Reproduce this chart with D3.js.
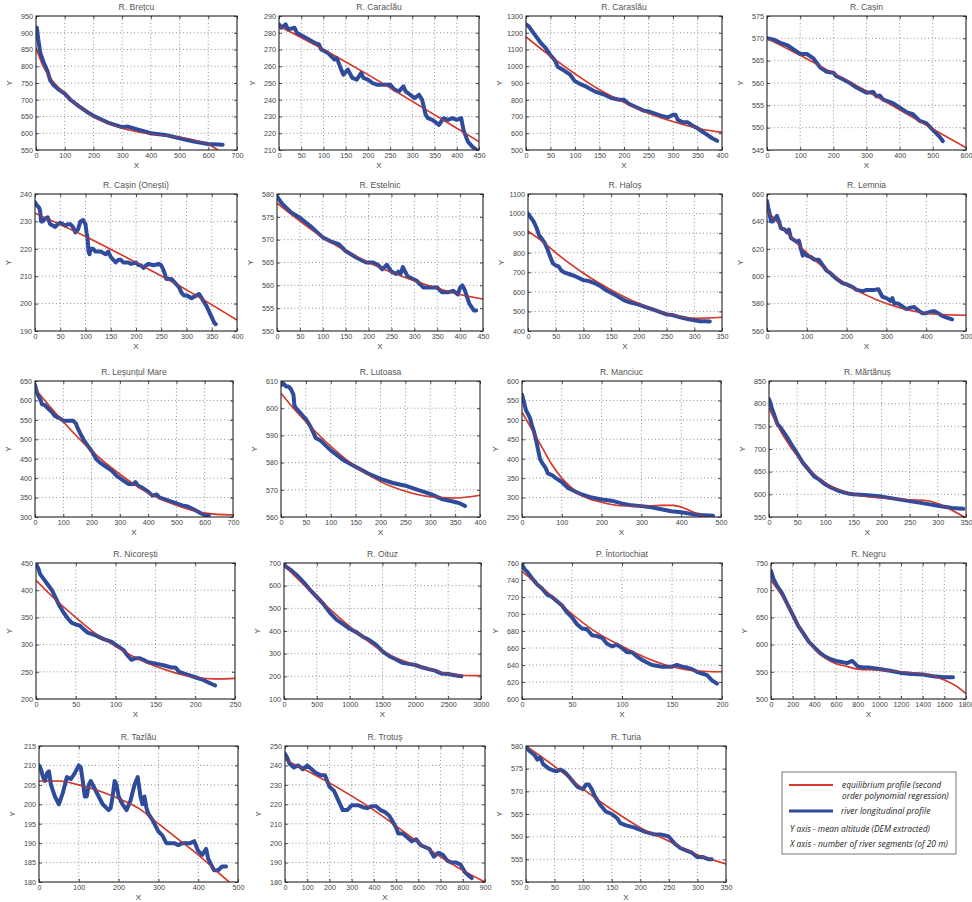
<!DOCTYPE html>
<html><head><meta charset="utf-8">
<script src="https://cdn.jsdelivr.net/npm/d3@7"></script>
<style>
html,body{margin:0;padding:0;background:#fff;}
svg{display:block;font-family:"Liberation Sans",Arial,sans-serif;}
</style></head>
<body>
<script>
// ---------- DATA ----------
const titles = ["R. Brețcu","R. Caraclău","R. Caraslău","R. Cașin",
  "R. Cașin (Onești)","R. Estelnic","R. Haloș","R. Lemnia",
  "R. Leșunțul Mare","R. Lutoasa","R. Manciuc","R. Mărtănuș",
  "R. Nicorești","R. Oituz","P. Întortochiat","R. Negru",
  "R. Tazlău","R. Trotuș","R. Turia"];

const xDomains = [[0,700],[0,450],[0,400],[0,600],[0,400],[0,450],[0,350],[0,500],[0,700],[0,400],[0,500],[0,350],[0,250],[0,3000],[0,200],[0,1800],[0,500],[0,900],[0,350]];
const yDomains = [[550,950],[210,290],[500,1300],[545,575],[190,240],[550,580],[400,1100],[560,660],[300,650],[560,610],[250,600],[550,850],[200,450],[100,700],[600,760],[500,750],[180,215],[180,250],[550,580]];
const xSteps = [100,50,50,100,50,50,50,100,100,50,100,50,50,500,50,200,100,100,50];
const ySteps = [50,10,100,5,10,5,100,20,50,10,50,50,50,100,20,50,5,10,5];

// river longitudinal profiles (x, Y)
const blueProfiles = [
 [[0,905],[3,915],[8,880],[15,840],[25,815],[40,785],[50,757],[60,745],[80,730],[100,718],[120,700],[150,680],[175,665],[200,652],[250,632],[300,618],[320,620],[350,612],[400,600],[450,595],[500,585],[550,575],[600,568],[650,566]],
 [[0,285],[5,283],[15,285],[20,282],[35,283],[40,280],[60,277],[80,274],[90,273],[95,270],[110,268],[125,264],[130,265],[140,258],[145,255],[155,258],[165,253],[175,252],[185,256],[190,253],[200,252],[210,250],[220,249],[240,249],[250,249],[260,246],[270,245],[280,248],[285,245],[295,243],[305,241],[315,243],[322,240],[330,231],[335,229],[345,228],[355,226],[360,225],[370,229],[380,228],[390,229],[400,228],[410,229],[415,222],[425,215],[435,212],[445,210]],
 [[0,1250],[5,1240],[10,1220],[20,1180],[30,1140],[40,1110],[50,1065],[55,1050],[60,1030],[65,995],[75,980],[90,950],[100,910],[110,895],[125,875],[140,850],[150,840],[160,830],[175,810],[190,800],[200,800],[210,775],[225,755],[240,735],[250,730],[260,720],[275,705],[290,695],[300,710],[305,710],[310,680],[320,665],[330,665],[340,645],[350,630],[360,610],[370,590],[380,570],[390,555]],
 [[0,570],[20,569.7],[40,569],[60,568.5],[80,567.5],[100,566.5],[120,566.5],[140,565.5],[150,564.5],[160,563.5],[180,562.5],[200,562.3],[210,561.5],[230,560.8],[250,560],[270,559],[290,558.2],[300,557.8],[320,558],[330,557],[340,557.2],[350,556.3],[380,555.5],[400,554.5],[420,553.5],[440,553],[460,551.5],[480,551],[500,549.5],[520,548],[530,547]],
 [[0,237],[3,236],[8,235],[10,234],[12,230],[15,230],[20,231],[25,231.5],[30,229],[35,228.5],[40,228],[45,229],[50,229.5],[55,229],[60,228.5],[65,229],[70,229],[75,228],[80,226],[85,227],[90,230],[95,230.5],[100,229],[102,226],[104,224],[106,219],[108,218],[110,220],[115,220],[120,219],[130,219],[140,218],[145,219],[150,217],[155,216],[160,215],[165,216],[170,216],[175,215],[185,215],[190,214.5],[200,215],[205,214],[210,214],[215,213],[220,214],[225,214.5],[235,214],[245,214.5],[250,214],[255,212],[260,209],[270,209],[280,207],[285,206],[290,204],[295,203],[300,203],[310,202],[320,203],[325,203.5],[330,202],[340,199],[345,197],[350,195],[355,193],[358,192.5]],
 [[0,579.5],[10,578],[20,577],[30,576],[50,574.8],[75,572.8],[100,570.5],[120,569.5],[135,569],[150,567.5],[175,566],[195,565],[210,565],[220,564.5],[230,563.5],[240,564.5],[250,563],[260,562.5],[265,563],[270,562.5],[275,564],[280,563],[285,562],[295,561.5],[305,561],[320,559.5],[335,559.5],[350,559.5],[360,558.5],[375,558.5],[385,558.8],[395,558],[400,559.5],[405,560],[410,559],[420,556],[430,554.5],[435,554.5]],
 [[0,1000],[5,980],[10,960],[15,930],[20,890],[25,870],[30,850],[35,820],[40,780],[45,745],[50,735],[55,730],[60,710],[65,700],[75,690],[85,680],[100,660],[110,655],[120,645],[130,630],[140,610],[150,595],[160,580],[175,555],[185,545],[200,535],[210,525],[225,510],[240,495],[250,485],[260,482],[275,470],[290,460],[300,455],[310,450],[320,450],[328,448]],
 [[0,655],[3,650],[5,648],[10,640],[15,640],[20,642],[25,644],[30,640],[35,635],[45,634],[50,632],[55,634],[60,628],[70,626],[75,625],[80,626],[85,620],[90,615],[95,617],[100,615],[110,614],[120,612],[130,612],[140,608],[150,604],[160,602],[175,598],[190,595],[200,594],[215,592],[225,590],[240,589],[250,590],[260,590],[270,590],[280,590.5],[290,585],[300,584],[310,582],[315,584],[320,580],[330,580],[340,578],[350,576],[360,577],[370,577.5],[380,575],[390,573],[400,573],[410,574],[420,574.5],[430,573],[440,571],[450,570],[465,568.5]],
 [[0,640],[5,625],[10,615],[20,600],[25,590],[35,588],[45,580],[60,570],[70,560],[85,555],[100,548],[110,548],[125,548],[135,548],[145,540],[150,530],[160,515],[175,495],[190,480],[205,465],[215,450],[230,440],[250,430],[270,420],[290,405],[310,395],[330,385],[350,385],[355,390],[365,380],[380,375],[400,365],[415,355],[430,358],[440,350],[460,345],[480,340],[500,335],[520,330],[540,327],[560,320],[580,312],[600,305],[615,305]],
 [[0,608.5],[5,609],[10,608],[15,608],[20,607],[25,605],[27,601],[30,600],[40,598],[50,596],[60,593],[70,589],[80,588],[100,584.5],[125,581],[150,578.5],[175,576],[200,574],[225,572.5],[250,571.5],[275,570],[300,568.5],[325,566.5],[350,565.5],[360,565],[370,564]],
 [[0,565],[5,545],[10,525],[20,505],[25,485],[30,470],[35,450],[40,425],[45,400],[50,390],[60,375],[65,362],[75,358],[85,350],[100,340],[115,325],[125,320],[135,315],[150,308],[175,300],[200,295],[225,292],[250,285],[275,280],[300,278],[325,275],[350,270],[375,265],[400,262],[425,258],[450,255],[480,253]],
 [[0,810],[3,800],[5,790],[8,780],[15,755],[20,748],[30,730],[40,710],[50,690],[60,670],[70,655],[80,640],[90,632],[100,622],[110,615],[125,607],[140,602],[150,600],[175,598],[200,595],[225,590],[250,585],[275,580],[300,575],[325,570],[345,568]],
 [[0,448],[3,440],[5,430],[10,420],[15,410],[20,400],[25,385],[30,370],[35,358],[40,348],[45,340],[50,337],[55,335],[60,328],[65,322],[75,317],[85,310],[95,305],[100,300],[110,290],[115,280],[120,272],[125,275],[130,275],[135,272],[140,268],[150,265],[160,262],[170,258],[175,258],[180,250],[190,245],[200,240],[210,235],[220,228],[225,225]],
 [[0,690],[100,670],[200,645],[300,615],[400,580],[500,550],[600,520],[700,480],[800,450],[900,430],[1000,410],[1100,395],[1200,375],[1300,360],[1400,340],[1500,310],[1600,290],[1700,275],[1800,260],[1900,255],[2000,250],[2100,240],[2200,232],[2300,225],[2400,212],[2500,210],[2600,205],[2700,200]],
 [[0,758],[3,752],[5,750],[10,742],[15,735],[20,730],[25,723],[30,720],[35,715],[40,710],[45,702],[50,696],[55,688],[60,683],[65,682],[70,675],[75,674],[80,672],[85,665],[90,662],[95,664],[100,660],[105,655],[110,655],[115,650],[120,646],[125,643],[130,640],[140,638],[150,638],[155,640],[160,638],[165,637],[170,635],[175,632],[180,630],[185,628],[190,622],[195,618]],
 [[0,735],[25,720],[50,710],[100,695],[150,675],[200,655],[250,635],[300,620],[350,605],[400,595],[450,585],[500,578],[550,573],[600,570],[650,568],[700,566],[750,570],[800,560],[850,558],[900,558],[1000,555],[1100,552],[1200,548],[1300,546],[1400,545],[1500,542],[1600,540],[1680,540]],
 [[0,210],[5,209],[10,207],[15,206],[20,208],[25,208.5],[30,205],[40,202],[50,200],[60,203],[70,207],[80,206.5],[90,208],[100,210],[105,209.5],[110,206],[115,202],[120,202],[125,205],[130,206],[140,204],[150,202],[160,200],[175,198.5],[180,199],[185,202],[190,206],[195,205],[200,202],[210,200],[220,198.5],[230,201],[240,205],[248,207],[255,202],[260,200],[265,202],[270,199],[275,197.5],[285,196],[300,193],[310,192],[320,190],[340,190],[350,189.5],[360,190],[370,190],[380,190],[390,190.5],[400,188],[410,187],[420,188.5],[425,186],[430,185],[440,183],[450,183],[460,184],[470,184]],
 [[0,246],[10,244],[20,241],[40,239],[60,240],[80,238],[100,240],[120,238],[140,236],[160,235],[180,235],[200,229],[220,227],[240,222],[260,217],[280,217],[300,219.5],[330,219.5],[350,218.5],[370,218],[390,219],[410,219],[430,217],[450,216],[470,214],[500,208],[510,205],[530,205],[550,203],[570,201],[590,202],[610,199],[630,198],[650,197],[670,193],[690,195],[710,194],[730,191],[750,190],[770,190],[790,189],[800,187],[810,185],[830,183],[840,182]],
 [[0,580],[5,579],[10,578.5],[15,578],[20,577],[25,577.5],[30,576],[35,575.5],[40,575],[50,574.5],[55,574.5],[60,574.8],[65,574.5],[70,574],[80,572.5],[90,571],[100,570.5],[105,571.5],[110,571.5],[115,570.5],[120,569],[130,567],[140,565.5],[150,565],[160,564],[165,563],[175,562.5],[190,562],[200,561.5],[210,561],[225,560.5],[235,560.5],[245,560.2],[250,560],[260,558.5],[270,557.5],[280,557],[290,556.5],[300,555.5],[310,555.5],[320,555],[325,555]]
];

// equilibrium profiles (second order polynomial regression)
const redProfiles = [
 [[0,855],[25,800],[50,765],[100,718],[150,680],[200,650],[300,615],[400,598],[500,588],[550,580],[600,567],[650,540]],
 [[0,284],[100,270],[200,255],[300,239],[350,231],[400,223],[450,215]],
 [[0,1175],[50,1060],[100,955],[150,860],[200,785],[250,720],[300,670],[350,630],[400,605]],
 [[0,570],[100,566.2],[200,562.2],[300,558.2],[400,554],[500,549.7],[600,545.5]],
 [[0,233],[100,224.5],[200,215],[300,205],[400,194]],
 [[0,578],[100,570.5],[200,565],[300,561],[400,558],[450,557]],
 [[0,910],[25,860],[50,800],[75,745],[100,695],[150,610],[200,540],[250,490],[300,465],[350,470]],
 [[0,648],[100,617],[200,594],[300,580],[400,573],[500,571.5]],
 [[0,630],[100,545],[200,470],[300,410],[400,362],[500,330],[600,310],[700,305]],
 [[0,605.5],[25,600],[50,595],[100,586],[150,578.5],[200,573],[250,569.5],[300,567.5],[350,567],[400,568]],
 [[0,520],[25,475],[50,430],[75,385],[100,350],[125,325],[150,305],[200,288],[250,279],[300,278],[350,280],[380,280],[400,276],[425,265],[450,255],[475,243]],
 [[0,790],[25,730],[50,685],[75,650],[100,625],[150,600],[200,592],[250,588],[275,587],[300,580],[325,565],[350,548]],
 [[0,418],[25,382],[50,350],[75,320],[100,297],[125,276],[150,260],[175,248],[200,240],[225,237],[250,238]],
 [[0,690],[500,550],[1000,420],[1500,310],[2000,250],[2500,212],[2700,205],[3000,203]],
 [[0,750],[25,726],[50,700],[75,678],[100,662],[125,648],[150,638],[175,633],[200,632]],
 [[0,718],[100,690],[200,655],[300,620],[400,592],[500,575],[600,565],[700,560],[800,555],[1000,553],[1200,550],[1400,546],[1500,542],[1600,535],[1700,525],[1800,510]],
 [[0,206],[50,206],[100,205],[150,203.5],[200,201.5],[250,199],[300,195],[350,191],[400,187],[450,182.5],[500,178]],
 [[0,243],[200,231],[400,217],[600,200.5],[800,186],[900,180]],
 [[0,580],[50,575.5],[100,570.5],[150,566],[200,562],[250,559],[300,556],[350,554]]
];

const legendItems = ["equilibrium profile (second", "order polynomial regression)", "river longitudinal profile"];
const legendNotes = ["Y axis - mean altitude (DEM extracted)", "X axis - number of river segments (of 20 m)"];

// ---------- LAYOUT ----------
const W = 972, H = 902;
const rowBox = [[16,150],[194,331],[381,517],[563,699],[746,882]];
const colBox = [
 [[36,237],[279,479],[526,722],[767,966]],
 [[35,237],[277,483],[528,722],[767,966]],
 [[35,233],[281,480],[522,721],[769,966]],
 [[36,235],[284,481],[522,722],[771,966]],
 [[39,238],[285,485],[526,726]]
];
const BLUE = "#2e4b9c", RED = "#d63a2c";

const svg = d3.select("body").append("svg").attr("width", W).attr("height", H);

titles.forEach((title, i) => {
  const r = Math.floor(i / 4), c = i % 4;
  const [top, bottom] = rowBox[r];
  const [left, right] = colBox[r][c];
  const x = d3.scaleLinear().domain(xDomains[i]).range([left, right]);
  const y = d3.scaleLinear().domain(yDomains[i]).range([bottom, top]);
  const xt = d3.range(xDomains[i][0], xDomains[i][1] + 1e-9, xSteps[i]);
  const yt = d3.range(yDomains[i][0], yDomains[i][1] + 1e-9, ySteps[i]);
  const g = svg.append("g");

  // grid
  g.selectAll(".gx").data(xt.slice(1, -1)).enter().append("line")
    .attr("x1", d => x(d)).attr("x2", d => x(d)).attr("y1", top).attr("y2", bottom)
    .attr("stroke", "#666").attr("stroke-width", 0.7).attr("stroke-dasharray", "1,2.5");
  g.selectAll(".gy").data(yt.slice(1, -1)).enter().append("line")
    .attr("y1", d => y(d)).attr("y2", d => y(d)).attr("x1", left).attr("x2", right)
    .attr("stroke", "#666").attr("stroke-width", 0.7).attr("stroke-dasharray", "1,2.5");

  // axes (inner ticks, labels)
  const ax = g.append("g").attr("transform", `translate(0,${bottom})`)
    .call(d3.axisBottom(x).tickValues(xt).tickSize(-3).tickPadding(3).tickFormat(d3.format("d")));
  const ay = g.append("g").attr("transform", `translate(${left},0)`)
    .call(d3.axisLeft(y).tickValues(yt).tickSize(-3).tickPadding(3).tickFormat(d3.format("d")));
  const axT = g.append("g").attr("transform", `translate(0,${top})`)
    .call(d3.axisTop(x).tickValues(xt).tickSize(-3).tickFormat(""));
  const ayR = g.append("g").attr("transform", `translate(${right},0)`)
    .call(d3.axisRight(y).tickValues(yt).tickSize(-3).tickFormat(""));
  [ax, ay, axT, ayR].forEach(a => {
    a.select(".domain").remove();
    a.selectAll("line").attr("stroke", "#222").attr("stroke-width", 0.8);
    a.selectAll("text").attr("font-size", 7.2).attr("fill", "#444")
      .attr("font-family", '"Liberation Sans",Arial,sans-serif');
  });

  // clip
  const cid = "clip" + i;
  svg.append("clipPath").attr("id", cid).append("rect")
    .attr("x", left).attr("y", top).attr("width", right - left).attr("height", bottom - top);

  const line = d3.line().x(d => x(d[0])).y(d => y(d[1]));
  g.append("path").datum(redProfiles[i]).attr("clip-path", `url(#${cid})`)
    .attr("d", line.curve(d3.curveMonotoneX)).attr("fill", "none")
    .attr("stroke", RED).attr("stroke-width", 1.6);
  g.append("path").datum(blueProfiles[i]).attr("clip-path", `url(#${cid})`)
    .attr("d", d3.line().x(d => x(d[0])).y(d => y(d[1])).curve(d3.curveLinear)).attr("fill", "none")
    .attr("stroke", BLUE).attr("stroke-width", 4).attr("stroke-linejoin", "round").attr("stroke-linecap", "round");
  g.append("path").datum(redProfiles[i]).attr("clip-path", `url(#${cid})`)
    .attr("d", line.curve(d3.curveMonotoneX)).attr("fill", "none")
    .attr("stroke", RED).attr("stroke-width", 1.1).attr("opacity", 0.55);

  // frame
  g.append("rect").attr("x", left).attr("y", top).attr("width", right - left).attr("height", bottom - top)
    .attr("fill", "none").attr("stroke", "#222").attr("stroke-width", 1.1);

  // labels
  g.append("text").attr("x", (left + right) / 2).attr("y", top - 6).attr("text-anchor", "middle")
    .attr("font-size", 8.6).attr("font-weight", "normal").attr("fill", "#555").text(title);
  g.append("text").attr("x", (left + right) / 2).attr("y", bottom + 18).attr("text-anchor", "middle")
    .attr("font-size", 8).attr("fill", "#444").text("X");
  g.append("text").attr("transform", `translate(${left - 24},${(top + bottom) / 2}) rotate(-90)`)
    .attr("text-anchor", "middle").attr("font-size", 8).attr("fill", "#444").text("Y");
});

// legend
const lg = svg.append("g");
lg.append("rect").attr("x", 782).attr("y", 772).attr("width", 174).attr("height", 82)
  .attr("fill", "#fff").attr("stroke", "#777").attr("stroke-width", 1);
lg.append("line").attr("x1", 789).attr("x2", 833).attr("y1", 785).attr("y2", 785)
  .attr("stroke", RED).attr("stroke-width", 2.2);
lg.append("line").attr("x1", 789).attr("x2", 833).attr("y1", 811).attr("y2", 811)
  .attr("stroke", BLUE).attr("stroke-width", 3);
const italic = t => t.attr("font-family", '"Open Sans",sans-serif').attr("font-style", "italic")
  .attr("font-size", 8.4).attr("fill", "#222");
italic(lg.append("text").attr("x", 842).attr("y", 788).text(legendItems[0]));
italic(lg.append("text").attr("x", 842).attr("y", 799).text(legendItems[1]));
italic(lg.append("text").attr("x", 841).attr("y", 814).text(legendItems[2]));
italic(lg.append("text").attr("x", 790).attr("y", 832).text(legendNotes[0]));
italic(lg.append("text").attr("x", 790).attr("y", 847).text(legendNotes[1]));
</script>
</body></html>
